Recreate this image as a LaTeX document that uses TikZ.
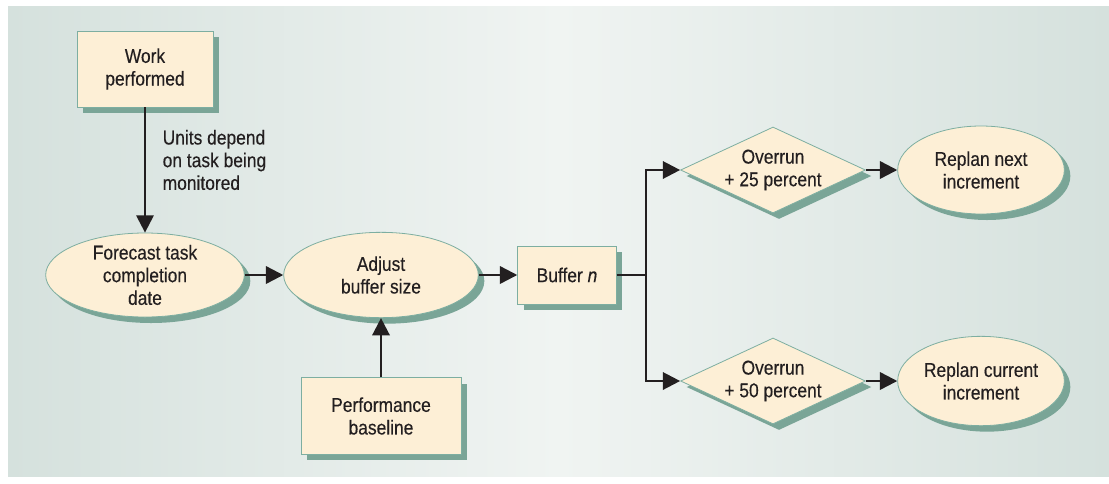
\documentclass[tikz,border=0pt]{standalone}
\usepackage{fontspec}
\setmainfont{Liberation Sans}[FakeStretch=0.87,FakeBold=0.3]
\usepackage{tikz}
\usetikzlibrary{positioning,arrows.meta,shapes.geometric,shadows}
\usepackage{xcolor}
\definecolor{panelside}{HTML}{D5E1DD}
\definecolor{panelmid}{HTML}{F0F4F2}
\definecolor{cream}{HTML}{FDEFD6}
\definecolor{rim}{HTML}{7DAEA1}
\definecolor{shadowgreen}{HTML}{7AA597}
\definecolor{ink}{HTML}{231F20}
\tikzset{
  box/.style={draw=rim, line width=0.6pt, fill=cream, text=ink, align=center,
    font=\fontsize{15}{17}\selectfont,
    drop shadow={shadow xshift=4.5pt, shadow yshift=-4.5pt, fill=shadowgreen, opacity=1}},
  oval/.style={box, ellipse, inner xsep=0pt, inner ysep=-5pt},
  rhomb/.style={box, diamond, inner sep=0pt, aspect=2.15},
  arr/.style={line width=1.8pt, draw=ink, -{Triangle[length=13pt,width=13pt]}},
}

\begin{document}
\begin{tikzpicture}[x=0.75pt, y=-0.75pt]
% 背景
\useasboundingbox (0,0) rectangle (1109,483);
\fill[white] (0,0) rectangle (1109,483);
\shade[left color=panelside, right color=panelside, middle color=panelmid] (8,6) rectangle (1109,476);

% 入力
\node[box, minimum width=102pt, minimum height=57pt] (work) at (145,69) {Work\\performed};
\node[box, minimum width=120pt, minimum height=57.5pt] (baseline) at (381,416) {Performance\\baseline};

% 中段
\node[oval, minimum width=149pt, minimum height=63pt] (forecast) at (145,275) {Forecast task\\completion\\date};
\node[oval, minimum width=146pt, minimum height=64pt] (adjust) at (381,275) {Adjust\\buffer size};
\node[box, minimum width=74pt, minimum height=43.5pt] (buffer) at (567,275) {Buffer \textit{n}};
\coordinate (split) at (646,275);

% 分岐
\node[rhomb, minimum width=137pt, minimum height=63pt] (over25) at (773,170) {Overrun\\+ 25 percent};
\node[rhomb, minimum width=137pt, minimum height=63pt] (over50) at (773,381) {Overrun\\+ 50 percent};
\node[oval, minimum width=125pt, minimum height=66pt] (replnext) at (981,170) {Replan next\\increment};
\node[oval, minimum width=125pt, minimum height=67pt] (replcur) at (981,381) {Replan current\\increment};

% 注記
\node[anchor=west, align=left, text=ink, font=\fontsize{15}{17}\selectfont] (units) at (158,160) {Units depend\\on task being\\monitored};

% 矢印
\draw[arr] (work) -- (forecast);
\draw[arr] (forecast) -- (adjust);
\draw[arr] (baseline) -- (adjust);
\draw[arr] (adjust) -- (buffer);
\draw[line width=1.8pt, draw=ink] (buffer) -- (split);
\draw[arr] (split) |- (over25);
\draw[arr] (split) |- (over50);
\draw[arr] (over25) -- (replnext);
\draw[arr] (over50) -- (replcur);
\end{tikzpicture}
\end{document}
